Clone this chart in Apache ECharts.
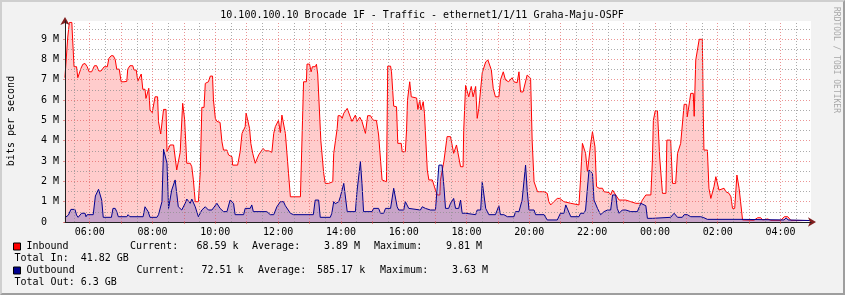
<!DOCTYPE html>
<html><head><meta charset="utf-8">
<script src="https://cdn.jsdelivr.net/npm/echarts@6/dist/echarts.min.js"></script>
<style>
html,body{margin:0;padding:0;background:#f2f2f2;}
#wrap{position:relative;width:845px;height:295px;overflow:hidden;}
#c{position:absolute;left:0;top:0;width:845px;height:295px;}
#frame{position:absolute;left:0;top:0;width:845px;height:295px;box-sizing:border-box;border-top:2px solid #cfcfcf;border-left:2px solid #cfcfcf;border-right:2px solid #9e9e9e;border-bottom:2px solid #9e9e9e;pointer-events:none;}
</style></head>
<body><div id="wrap"><div id="c"></div><div id="frame"></div></div>
<script>
// ---- data (time in hours of day, continuing past 24 for the next day; values in Mbit/s) ----
const titleText = '10.100.100.10 Brocade 1F - Traffic - ethernet1/1/11 Graha-Maju-OSPF';
const xLabelHours = [6,8,10,12,14,16,18,20,22,24,26,28];
const yLabelValues = [0,1,2,3,4,5,6,7,8,9];
const timeStart = 5.212, timeEnd = 28.97, yMax = 9.89;

const inbound = [[5.21,7.10],[5.27,7.10],[5.30,9.10],[5.35,9.82],[5.43,9.82],[5.44,9.45],[5.48,9.45],[5.50,7.64],[5.58,7.64],[5.62,7.10],[5.67,7.10],[5.72,7.56],[5.78,7.76],[5.85,7.80],[5.90,7.80],[5.92,7.64],[5.98,7.39],[6.06,7.39],[6.15,7.69],[6.22,7.69],[6.29,7.43],[6.36,7.43],[6.46,7.64],[6.56,7.64],[6.61,8.05],[6.68,8.18],[6.75,8.18],[6.81,8.00],[6.86,7.52],[6.94,7.52],[7.00,6.90],[7.09,6.90],[7.14,6.92],[7.18,6.92],[7.21,7.52],[7.28,7.69],[7.37,7.69],[7.41,7.48],[7.48,7.48],[7.53,6.93],[7.58,6.93],[7.64,7.28],[7.69,6.53],[7.76,6.53],[7.79,6.08],[7.84,6.08],[7.88,6.58],[7.92,5.51],[7.99,5.38],[8.03,5.38],[8.08,6.16],[8.16,6.16],[8.19,4.93],[8.26,4.33],[8.30,4.33],[8.35,5.54],[8.43,5.54],[8.46,3.46],[8.56,3.79],[8.67,3.79],[8.69,3.70],[8.77,2.56],[8.82,2.56],[8.88,3.43],[8.93,3.43],[8.96,5.84],[9.02,5.07],[9.09,2.89],[9.20,2.89],[9.25,2.72],[9.30,2.07],[9.36,1.00],[9.46,1.00],[9.52,2.47],[9.57,5.64],[9.64,5.64],[9.68,6.82],[9.74,6.82],[9.78,6.90],[9.84,7.18],[9.91,7.18],[9.94,6.00],[10.00,5.10],[10.05,4.95],[10.15,4.90],[10.21,3.95],[10.26,3.54],[10.37,3.54],[10.42,3.30],[10.47,3.21],[10.53,3.21],[10.55,2.80],[10.71,2.80],[10.74,2.89],[10.79,3.46],[10.85,4.36],[10.95,4.69],[10.98,5.36],[11.09,4.60],[11.13,3.87],[11.19,3.38],[11.24,3.38],[11.27,2.89],[11.33,2.89],[11.38,3.30],[11.43,3.30],[11.52,3.62],[11.56,3.62],[11.59,3.50],[11.70,3.50],[11.75,3.43],[11.80,3.43],[11.86,4.36],[11.91,4.69],[11.96,4.69],[12.01,5.00],[12.07,4.40],[12.12,5.26],[12.17,5.26],[12.23,4.36],[12.28,4.36],[12.33,2.40],[12.39,1.24],[12.71,1.24],[12.81,6.90],[12.90,6.90],[12.92,7.77],[13.00,7.77],[13.05,7.39],[13.09,7.64],[13.18,7.64],[13.22,7.76],[13.26,7.28],[13.32,7.28],[13.36,4.00],[13.45,2.40],[13.50,1.90],[13.61,1.90],[13.66,1.98],[13.74,1.98],[13.77,3.38],[13.82,3.38],[13.88,4.60],[13.91,5.23],[13.98,5.23],[14.04,5.10],[14.09,5.35],[14.14,5.35],[14.20,5.59],[14.25,5.59],[14.30,5.16],[14.35,4.95],[14.46,5.26],[14.51,4.95],[14.60,5.16],[14.67,4.95],[14.72,4.95],[14.78,4.36],[14.85,5.23],[14.94,5.23],[14.99,5.10],[15.04,5.00],[15.13,5.00],[15.20,4.28],[15.26,4.28],[15.31,2.07],[15.36,1.98],[15.45,1.98],[15.49,7.67],[15.58,7.67],[15.61,7.39],[15.68,5.70],[15.74,5.67],[15.77,5.67],[15.81,3.87],[15.92,3.87],[15.95,3.46],[16.05,3.46],[16.09,4.53],[16.12,6.00],[16.19,6.90],[16.24,6.16],[16.30,6.10],[16.41,6.10],[16.45,5.54],[16.51,6.00],[16.55,5.51],[16.59,5.51],[16.62,5.92],[16.66,5.35],[16.75,2.56],[16.80,2.07],[16.91,2.07],[16.96,1.98],[17.01,1.57],[17.07,1.33],[17.15,1.33],[17.17,2.07],[17.28,3.00],[17.38,4.20],[17.49,4.20],[17.54,3.79],[17.59,3.38],[17.65,3.38],[17.68,3.79],[17.74,3.70],[17.81,2.72],[17.89,2.72],[17.91,4.50],[17.97,6.72],[18.02,6.72],[18.07,6.16],[18.13,6.16],[18.15,6.67],[18.21,6.16],[18.29,6.67],[18.34,5.10],[18.39,5.59],[18.45,5.59],[18.50,7.34],[18.61,7.88],[18.68,7.97],[18.74,7.97],[18.79,7.48],[18.85,6.58],[18.92,6.16],[19.03,6.16],[19.08,6.99],[19.17,7.39],[19.24,6.99],[19.30,7.02],[19.34,6.90],[19.40,6.90],[19.45,7.10],[19.51,6.90],[19.56,6.90],[19.61,6.85],[19.67,7.39],[19.72,6.40],[19.80,6.40],[19.86,6.33],[19.93,7.23],[19.99,7.23],[20.04,7.07],[20.09,4.00],[20.15,1.98],[20.20,1.98],[20.26,1.49],[20.47,1.49],[20.52,1.41],[20.57,1.41],[20.62,1.00],[20.68,0.84],[20.73,0.84],[20.78,1.00],[20.89,1.16],[20.97,1.16],[20.99,1.08],[21.10,1.00],[21.16,0.92],[21.32,0.92],[21.37,0.84],[21.58,0.84],[21.63,2.07],[21.69,3.87],[21.74,3.87],[21.79,3.38],[21.85,2.47],[21.90,2.47],[21.95,3.79],[22.01,4.44],[22.06,4.44],[22.09,3.70],[22.14,1.74],[22.22,1.66],[22.33,1.66],[22.38,1.49],[22.54,1.45],[22.59,1.33],[22.65,1.57],[22.70,1.49],[22.75,1.33],[22.80,1.24],[22.86,1.08],[22.96,1.08],[23.01,1.00],[23.07,1.08],[23.12,1.08],[23.23,1.00],[23.28,1.00],[23.39,0.92],[23.55,0.92],[23.60,1.08],[23.71,1.33],[23.87,1.33],[23.92,3.05],[23.95,5.00],[24.01,5.47],[24.08,5.47],[24.15,3.20],[24.24,1.41],[24.35,1.41],[24.38,4.03],[24.50,4.03],[24.56,1.90],[24.66,1.90],[24.72,3.38],[24.77,3.38],[24.82,3.87],[24.87,3.87],[24.93,5.79],[25.01,5.79],[25.03,5.18],[25.09,5.18],[25.14,6.33],[25.22,6.33],[25.25,5.20],[25.30,7.97],[25.35,7.97],[25.41,8.99],[25.51,8.99],[25.54,5.26],[25.56,3.54],[25.67,3.54],[25.72,1.66],[25.78,1.16],[25.83,1.16],[25.88,1.74],[25.94,2.23],[25.99,2.23],[26.04,1.57],[26.10,1.66],[26.20,1.66],[26.26,1.49],[26.31,1.49],[26.36,1.41],[26.42,1.24],[26.47,0.67],[26.54,0.67],[26.61,2.31],[26.68,1.66],[26.74,1.66],[26.79,0.10],[27.15,0.08],[27.27,0.21],[27.37,0.21],[27.43,0.10],[27.59,0.15],[27.64,0.15],[27.69,0.08],[28.01,0.08],[28.12,0.26],[28.23,0.26],[28.33,0.08],[28.97,0.07]];

const outbound = [[5.21,0.21],[5.27,0.21],[5.32,0.34],[5.37,0.34],[5.40,0.62],[5.53,0.62],[5.58,0.34],[5.63,0.23],[5.69,0.23],[5.74,0.43],[5.85,0.43],[5.88,0.26],[5.92,0.36],[6.11,0.36],[6.18,1.28],[6.24,1.28],[6.28,1.61],[6.32,1.61],[6.38,1.08],[6.43,0.23],[6.69,0.23],[6.74,0.67],[6.81,0.67],[6.86,0.51],[6.91,0.26],[7.18,0.26],[7.22,0.36],[7.28,0.26],[7.70,0.26],[7.76,0.75],[7.81,0.75],[7.86,0.51],[7.92,0.23],[8.14,0.23],[8.19,0.36],[8.24,0.36],[8.30,1.00],[8.35,3.58],[8.40,3.58],[8.46,2.89],[8.51,0.67],[8.56,0.67],[8.61,1.57],[8.67,1.57],[8.72,2.07],[8.77,1.41],[8.82,0.75],[8.88,0.75],[8.93,0.59],[8.98,0.59],[9.04,0.92],[9.09,1.13],[9.14,1.13],[9.20,0.92],[9.25,1.13],[9.30,1.13],[9.36,0.75],[9.41,0.75],[9.46,0.26],[9.52,0.26],[9.57,0.59],[9.68,0.75],[9.74,0.75],[9.78,0.59],[9.89,0.59],[9.94,0.51],[10.05,0.92],[10.10,0.92],[10.15,0.67],[10.26,0.51],[10.37,0.51],[10.47,1.08],[10.53,1.08],[10.58,0.92],[10.63,0.36],[10.90,0.36],[10.95,0.67],[11.11,0.67],[11.16,0.84],[11.21,0.51],[11.64,0.51],[11.75,0.36],[11.86,0.36],[11.96,0.75],[12.01,0.75],[12.07,1.00],[12.17,1.00],[12.23,0.80],[12.28,0.80],[12.39,0.43],[12.49,0.36],[13.12,0.36],[13.18,1.08],[13.29,1.08],[13.34,0.23],[13.66,0.23],[13.71,0.43],[13.77,1.00],[13.82,0.90],[13.93,1.00],[13.98,1.24],[14.04,1.24],[14.09,1.90],[14.14,1.90],[14.20,0.51],[14.46,0.51],[14.51,1.49],[14.56,1.49],[14.62,2.97],[14.67,1.90],[14.72,0.51],[14.99,0.51],[15.04,0.67],[15.20,0.67],[15.26,0.43],[15.36,0.43],[15.42,0.67],[15.58,0.67],[15.68,1.66],[15.74,1.66],[15.79,0.75],[15.84,0.59],[16.00,0.59],[16.05,1.00],[16.11,1.00],[16.16,0.67],[16.21,0.59],[16.53,0.59],[16.59,0.75],[16.64,0.75],[16.69,0.67],[16.85,0.59],[17.01,0.59],[17.07,0.67],[17.12,2.80],[17.22,2.80],[17.28,1.74],[17.33,0.67],[17.43,0.67],[17.49,0.92],[17.54,0.92],[17.59,1.16],[17.65,0.67],[17.75,0.67],[17.81,1.08],[17.86,0.43],[17.97,0.43],[18.02,0.36],[18.29,0.36],[18.34,0.59],[18.45,0.59],[18.50,1.98],[18.55,1.98],[18.61,0.67],[18.66,0.67],[18.71,0.36],[18.92,0.36],[19.03,0.80],[19.08,0.36],[19.19,0.36],[19.30,0.26],[19.51,0.26],[19.56,0.51],[19.67,0.51],[19.77,1.08],[19.88,2.80],[19.93,1.57],[19.99,0.59],[20.15,0.59],[20.20,0.36],[20.47,0.36],[20.57,0.10],[20.89,0.10],[20.99,0.43],[21.10,0.43],[21.16,0.84],[21.21,0.75],[21.32,0.26],[21.58,0.26],[21.63,0.43],[21.74,0.43],[21.79,0.59],[21.85,0.59],[21.90,2.56],[21.95,2.56],[22.01,2.40],[22.06,1.08],[22.11,1.08],[22.17,0.67],[22.22,0.67],[22.27,0.36],[22.33,0.36],[22.38,0.51],[22.43,0.51],[22.49,0.59],[22.59,0.59],[22.65,1.33],[22.75,1.33],[22.80,0.67],[22.86,0.43],[22.91,0.43],[22.96,0.59],[23.07,0.59],[23.12,0.67],[23.23,0.51],[23.44,0.51],[23.55,0.92],[23.71,0.80],[23.76,0.18],[23.92,0.18],[23.97,0.23],[24.50,0.23],[24.61,0.43],[24.66,0.43],[24.72,0.23],[24.87,0.23],[24.93,0.36],[25.03,0.36],[25.14,0.26],[25.46,0.26],[25.56,0.21],[25.67,0.13],[26.74,0.13],[26.79,0.10],[28.11,0.10],[28.18,0.20],[28.24,0.10],[28.97,0.07]];

const legendIn  = {name:'Inbound',  current:'68.59 k', average:'3.89 M',   maximum:'9.81 M', total:'Total In:  41.82 GB'};
const legendOut = {name:'Outbound', current:'72.51 k', average:'585.17 k', maximum:'3.63 M', total:'Total Out: 6.3 GB'};

// ---- chart ----
const FONT = '"DejaVu Sans Mono", "Liberation Mono", monospace';
const MGRID = 'rgba(222,79,79,0.6)', GRID = 'rgba(143,143,143,0.75)';

const gridLines = [];
for (let h = Math.ceil(timeStart*2)/2; h < timeEnd; h += 0.5) {
  const major = Number.isInteger(h);
  gridLines.push({xAxis: h, lineStyle: {color: major ? MGRID : GRID, type: [1,2], width: 1}});
}
for (let v = 0.5; v < yMax; v += 0.5) {
  const major = Number.isInteger(v);
  gridLines.push({yAxis: v, lineStyle: {color: major ? MGRID : GRID, type: [1,2], width: 1}});
}
const hourTicks = [];
for (let h = Math.ceil(timeStart); h <= Math.floor(timeEnd); h++) hourTicks.push(h);

const pad2 = n => (n < 10 ? '0' : '') + n;
const txt = (x, y, text, extra) => Object.assign({type:'text', x, y, silent:true,
  style: Object.assign({text, font: '10px ' + FONT, fill:'#000', align:'left', verticalAlign:'middle'}, (extra||{}).style||{})},
  extra ? {rotation: extra.rotation || 0} : {});

const chart = echarts.init(document.getElementById('c'), null, {renderer:'canvas'});
const axisCommonX = {type:'value', min: timeStart, max: timeEnd, position:'bottom', splitLine:{show:false}};
const axisCommonY = {type:'value', min: 0, max: yMax, position:'left', splitLine:{show:false}};

chart.setOption({
  animation: false,
  backgroundColor: '#f2f2f2',
  grid: {left: 65, top: 21, right: 34, bottom: 73, show: true, backgroundColor: '#ffffff', borderWidth: 0},
  xAxis: [
    Object.assign({}, axisCommonX, {z: 6,
      axisLine: {show: true, lineStyle: {color: '#202020', width: 1}},
      axisTick: {show: true, customValues: hourTicks, length: 2, lineStyle: {color: MGRID}},
      axisLabel: {customValues: xLabelHours, formatter: v => pad2(Math.round(v) % 24) + ':00',
                  fontFamily: FONT, fontSize: 10, color: '#000', margin: 5}}),
    Object.assign({}, axisCommonX, {z: 5,
      axisLine: {show: true, symbol: ['none','arrow'], symbolSize: [7,8], symbolOffset: [0,5], lineStyle: {color: '#801f1f', width: 1}},
      axisTick: {show: false}, axisLabel: {show: false}})
  ],
  yAxis: [
    Object.assign({}, axisCommonY, {z: 6,
      axisLine: {show: true, lineStyle: {color: '#202020', width: 1}},
      axisTick: {show: true, customValues: yLabelValues, length: 2, lineStyle: {color: MGRID}},
      axisLabel: {customValues: yLabelValues, formatter: v => v === 0 ? '0  ' : v + ' M',
                  fontFamily: FONT, fontSize: 10, color: '#000', margin: 6}}),
    Object.assign({}, axisCommonY, {z: 5,
      axisLine: {show: true, symbol: ['none','arrow'], symbolSize: [7,8], symbolOffset: [0,4], lineStyle: {color: '#801f1f', width: 1}},
      axisTick: {show: false}, axisLabel: {show: false}})
  ],
  series: [
    {type: 'line', data: [], z: 1, silent: true,
     markLine: {silent: true, symbol: ['none','none'], label: {show: false}, animation: false, data: gridLines}},
    {name: 'Inbound', type: 'line', data: inbound, z: 2, symbol: 'none', showSymbol: false,
     lineStyle: {color: '#ff0000', width: 1}, areaStyle: {color: 'rgba(255,0,0,0.2)', opacity: 1, origin: 'start'}},
    {name: 'Outbound', type: 'line', data: outbound, z: 3, symbol: 'none', showSymbol: false,
     lineStyle: {color: '#00008f', width: 1}, areaStyle: {color: 'rgba(72,74,191,0.3)', opacity: 1, origin: 'start'}}
  ],
  graphic: [
    txt(422, 15, titleText, {style: {align: 'center'}}),
    txt(11, 121, 'bits per second', {rotation: Math.PI/2, style: {align: 'center'}}),
    txt(836, 60, 'RRDTOOL / TOBI OETIKER', {rotation: -Math.PI/2, style: {align: 'center', fill: '#a8a8a8', font: '8px ' + FONT}}),
    {type:'rect', shape:{x:13.5, y:243, width:7, height:7}, style:{fill:'#ff0000', stroke:'#000', lineWidth:1}, silent:true},
    txt(26.5, 246.5, legendIn.name),
    txt(130, 246.5, 'Current:'),
    txt(196.5, 246.5, legendIn.current),
    txt(252, 246.5, 'Average:'),
    txt(324, 246.5, legendIn.average),
    txt(374, 246.5, 'Maximum:'),
    txt(446, 246.5, legendIn.maximum),
    txt(14.5, 258.5, legendIn.total),
    {type:'rect', shape:{x:13.5, y:267, width:7, height:7}, style:{fill:'#00008f', stroke:'#000', lineWidth:1}, silent:true},
    txt(26.5, 270.5, legendOut.name),
    txt(136.5, 270.5, 'Current:'),
    txt(201.5, 270.5, legendOut.current),
    txt(258, 270.5, 'Average:'),
    txt(317, 270.5, legendOut.average),
    txt(380, 270.5, 'Maximum:'),
    txt(452, 270.5, legendOut.maximum),
    txt(14.5, 282.5, legendOut.total)
  ]
});
</script>
</body></html>
